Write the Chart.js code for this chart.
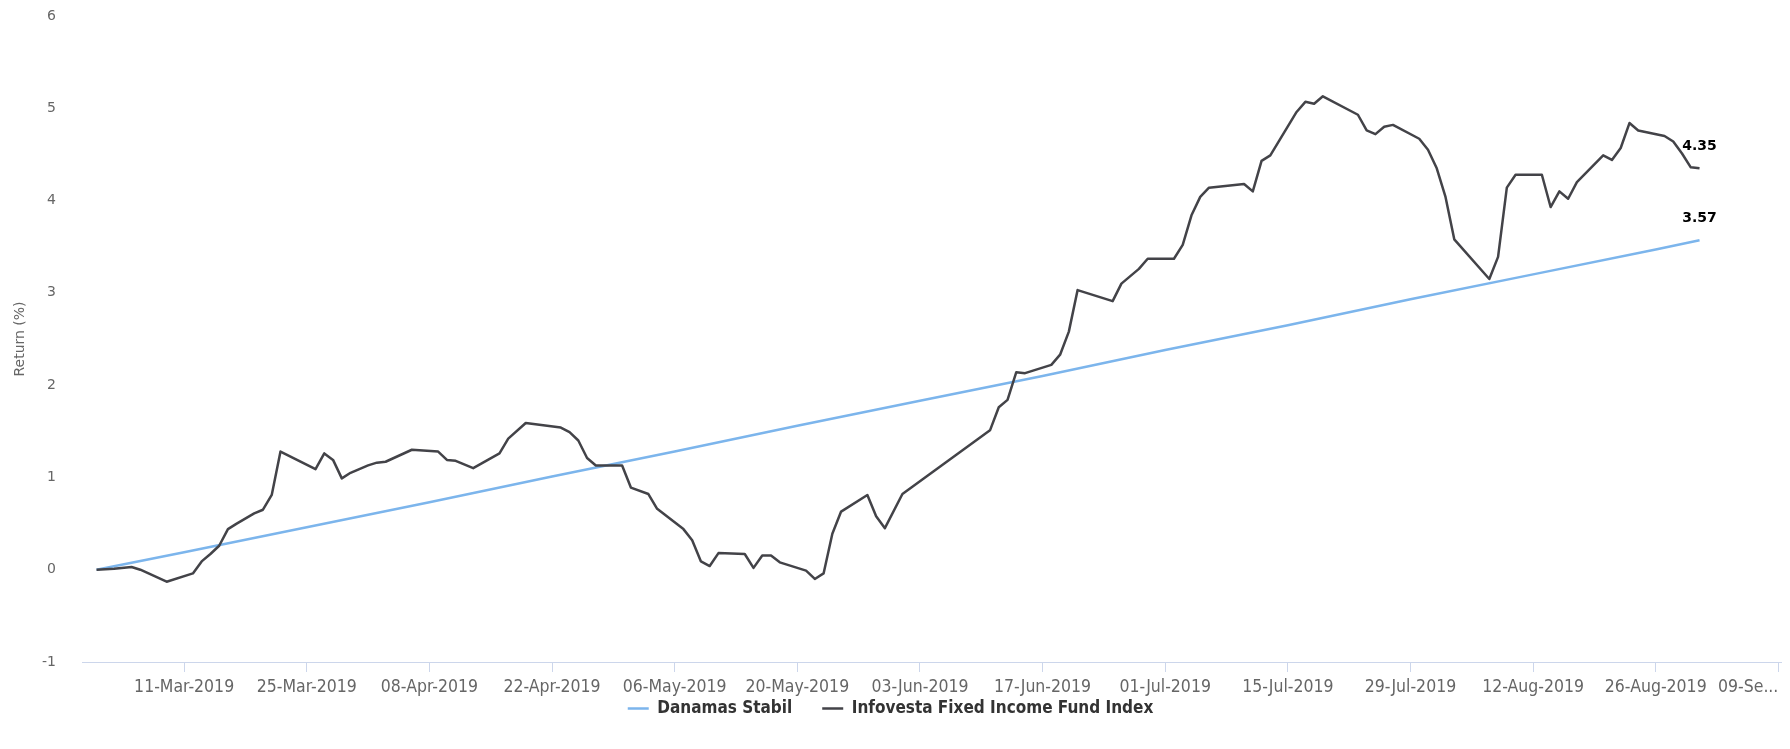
<!DOCTYPE html>
<html><head><meta charset="utf-8">
<script src="https://cdn.jsdelivr.net/npm/chart.js@4.4.0/dist/chart.umd.min.js"></script>
<style>html,body{margin:0;padding:0;background:#fff;overflow:hidden}#wrap{width:1790px;height:749px;position:relative}</style>
</head><body><div id="wrap"><canvas id="c" width="1790" height="749"></canvas></div>
<script>
const seriesNames = ['Danamas Stabil', 'Infovesta Fixed Income Fund Index'];

const danamasDates = ['2019-03-01','2019-03-11','2019-03-25','2019-04-08','2019-04-22','2019-05-06','2019-05-20','2019-06-03','2019-06-17','2019-07-01','2019-07-15','2019-07-29','2019-08-12','2019-08-26','2019-08-31'];
const danamasValues = [0, 0.19, 0.46, 0.73, 1.01, 1.28, 1.56, 1.83, 2.10, 2.38, 2.65, 2.93, 3.20, 3.47, 3.57];

const infovestaDates = ['2019-03-01','2019-03-03','2019-03-05','2019-03-06','2019-03-09','2019-03-12','2019-03-13','2019-03-14','2019-03-15','2019-03-16','2019-03-17','2019-03-19','2019-03-20','2019-03-21','2019-03-22','2019-03-26','2019-03-27','2019-03-28','2019-03-29','2019-03-30','2019-04-01','2019-04-02','2019-04-03','2019-04-06','2019-04-09','2019-04-10','2019-04-11','2019-04-13','2019-04-16','2019-04-17','2019-04-19','2019-04-23','2019-04-24','2019-04-25','2019-04-26','2019-04-27','2019-04-30','2019-05-01','2019-05-03','2019-05-04','2019-05-07','2019-05-08','2019-05-09','2019-05-10','2019-05-11','2019-05-14','2019-05-15','2019-05-16','2019-05-17','2019-05-18','2019-05-21','2019-05-22','2019-05-23','2019-05-24','2019-05-25','2019-05-28','2019-05-29','2019-05-30','2019-06-01','2019-06-11','2019-06-12','2019-06-13','2019-06-14','2019-06-15','2019-06-18','2019-06-19','2019-06-20','2019-06-21','2019-06-25','2019-06-26','2019-06-28','2019-06-29','2019-07-02','2019-07-03','2019-07-04','2019-07-05','2019-07-06','2019-07-10','2019-07-11','2019-07-12','2019-07-13','2019-07-16','2019-07-17','2019-07-18','2019-07-19','2019-07-23','2019-07-24','2019-07-25','2019-07-26','2019-07-27','2019-07-30','2019-07-31','2019-08-01','2019-08-02','2019-08-03','2019-08-07','2019-08-08','2019-08-09','2019-08-10','2019-08-13','2019-08-14','2019-08-15','2019-08-16','2019-08-17','2019-08-20','2019-08-21','2019-08-22','2019-08-23','2019-08-24','2019-08-27','2019-08-28','2019-08-29','2019-08-30','2019-08-31'];
const infovestaValues = [0.00,0.01,0.03,0.00,-0.13,-0.04,0.09,0.17,0.26,0.44,0.50,0.61,0.65,0.81,1.28,1.09,1.26,1.19,0.99,1.05,1.13,1.16,1.17,1.30,1.28,1.19,1.18,1.10,1.26,1.42,1.59,1.54,1.49,1.40,1.21,1.13,1.13,0.89,0.82,0.66,0.44,0.32,0.09,0.04,0.18,0.17,0.02,0.155,0.155,0.08,-0.01,-0.10,-0.04,0.39,0.63,0.81,0.58,0.45,0.82,1.51,1.76,1.84,2.14,2.13,2.22,2.33,2.58,3.03,2.91,3.10,3.26,3.37,3.37,3.52,3.84,4.04,4.14,4.18,4.10,4.43,4.49,4.96,5.07,5.05,5.13,4.93,4.76,4.72,4.80,4.82,4.67,4.55,4.35,4.04,3.58,3.15,3.39,4.14,4.28,4.28,3.93,4.10,4.02,4.20,4.49,4.44,4.57,4.84,4.76,4.70,4.64,4.51,4.36,4.35];

const tickDates = ['2019-03-11','2019-03-25','2019-04-08','2019-04-22','2019-05-06','2019-05-20','2019-06-03','2019-06-17','2019-07-01','2019-07-15','2019-07-29','2019-08-12','2019-08-26','2019-09-09'];
const yTicks = [-1, 0, 1, 2, 3, 4, 5, 6];

const BASE = Date.UTC(2019, 2, 1);
const MONTHS = ['Jan','Feb','Mar','Apr','May','Jun','Jul','Aug','Sep','Oct','Nov','Dec'];
const toDay = s => (Date.parse(s + 'T00:00:00Z') - BASE) / 864e5;
const fmtDay = d => {
  const dt = new Date(BASE + Math.round(d) * 864e5);
  return String(dt.getUTCDate()).padStart(2, '0') + '-' + MONTHS[dt.getUTCMonth()] + '-' + dt.getUTCFullYear();
};
const X_MIN = -1.66, X_MAX = 192.3;
const condensed = "'DejaVu Sans Condensed','Liberation Sans Narrow',sans-serif";
const LEGEND_ITEM_Y = 708.5;

const endLabels = {
  id: 'endLabels',
  afterDatasetsDraw(chart) {
    const ctx = chart.ctx;
    chart.data.datasets.forEach((ds, i) => {
      const meta = chart.getDatasetMeta(i);
      const pt = meta.data[meta.data.length - 1];
      const v = ds.data[ds.data.length - 1].y;
      ctx.save();
      ctx.font = "bold 14px 'DejaVu Sans'";
      ctx.textAlign = 'center';
      ctx.textBaseline = 'middle';
      ctx.lineJoin = 'round';
      ctx.lineWidth = 2;
      ctx.strokeStyle = '#ffffff';
      ctx.strokeText(v.toFixed(2), pt.x, pt.y - 22);
      ctx.fillStyle = '#000000';
      ctx.fillText(v.toFixed(2), pt.x, pt.y - 22);
      ctx.restore();
    });
  }
};

const legendPlace = {
  id: 'legendPlace',
  afterLayout(chart) {
    const lg = chart.legend;
    if (!lg) return;
    const pad = lg.options.labels.padding;
    const itemH = lg.options.labels.font.size;
    lg.top = LEGEND_ITEM_Y - pad - itemH / 2;
    lg.bottom = chart.height;
    lg.height = lg.bottom - lg.top;
  }
};

new Chart(document.getElementById('c'), {
  type: 'line',
  data: {
    datasets: [
      { label: seriesNames[0], data: danamasDates.map((d, i) => ({x: toDay(d), y: danamasValues[i]})),
        borderColor: '#7cb5ec', backgroundColor: '#7cb5ec', borderWidth: 2.5, pointRadius: 0, tension: 0, order: 1 },
      { label: seriesNames[1], data: infovestaDates.map((d, i) => ({x: toDay(d), y: infovestaValues[i]})),
        borderColor: '#434348', backgroundColor: '#434348', borderWidth: 2.5, pointRadius: 0, tension: 0, order: 0, borderJoinStyle: 'round' }
    ]
  },
  options: {
    responsive: false, animation: false, devicePixelRatio: 1,
    layout: { padding: { left: 0, right: 9, top: 16, bottom: 0 } },
    plugins: {
      tooltip: { enabled: false },
      legend: {
        position: 'bottom', align: 'center', maxHeight: 40,
        labels: {
          usePointStyle: true, pointStyle: 'line', pointStyleWidth: 21,
          color: '#333333', padding: 30,
          font: { family: condensed, size: 17, weight: 'bold' },
          sort: (a, b) => a.datasetIndex - b.datasetIndex
        }
      }
    },
    scales: {
      x: {
        type: 'linear', min: X_MIN, max: X_MAX,
        afterBuildTicks: s => { s.ticks = [{value: X_MIN}].concat(tickDates.map(d => ({value: toDay(d)}))); },
        afterFit: s => { s.height = 47; s.paddingLeft = 0; s.paddingRight = 0; },
        ticks: {
          autoSkip: false, maxRotation: 0, minRotation: 0, align: 'inner', padding: 5,
          color: '#666666', font: { family: condensed, size: 17.5 },
          callback: (v, i, t) => {
            if (i === 0) return '';
            const s = fmtDay(v);
            return i === t.length - 1 ? s.slice(0, 5) + '...' : s;
          }
        },
        grid: { display: true, drawOnChartArea: false, drawTicks: true, tickLength: 10,
          tickColor: c => c.index === 0 ? 'rgba(0,0,0,0)' : '#ccd6eb', tickWidth: 1 },
        border: { display: true, color: '#ccd6eb', width: 1 }
      },
      y: {
        type: 'linear', min: -1, max: 6,
        afterBuildTicks: s => { s.ticks = yTicks.map(v => ({value: v})); },
        afterFit: s => { s.width = 82; s.paddingTop = 0; s.paddingBottom = 0; },
        ticks: { color: '#666666', font: { family: "'DejaVu Sans'", size: 14 }, padding: 26 },
        grid: { display: false, drawTicks: false },
        border: { display: false },
        title: { display: true, text: 'Return (%)', color: '#666666',
          font: { family: "'DejaVu Sans'", size: 14 }, padding: { top: 12, bottom: 0 } }
      }
    }
  },
  plugins: [endLabels, legendPlace]
});
</script></body></html>
